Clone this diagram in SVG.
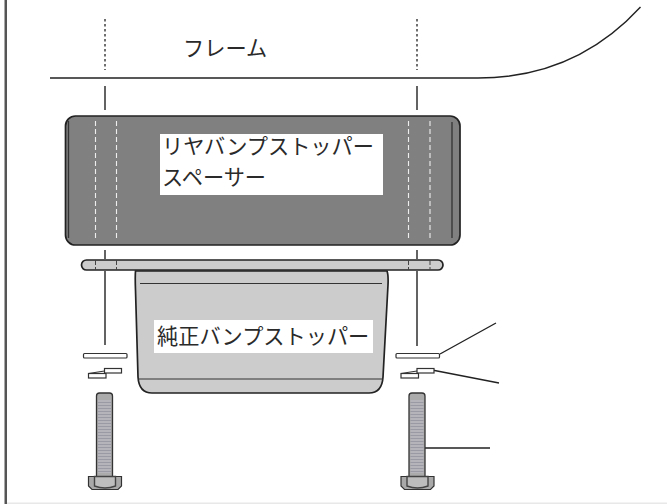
<svg xmlns="http://www.w3.org/2000/svg" xmlns:xlink="http://www.w3.org/1999/xlink" width="667" height="504" viewBox="0 0 667 504">
<style>
.ln{fill:none;stroke:#222;stroke-width:1.4}
.dot{fill:none;stroke:#333;stroke-width:1.4;stroke-dasharray:2.5 2.5}
.wd{fill:none;stroke:#eee;stroke-width:1.1;stroke-dasharray:5 3}
.tick{fill:none;stroke:#444;stroke-width:1;stroke-dasharray:5 2}
.part{stroke:#222;stroke-width:1.7}
.wash{fill:#fff;stroke:#333;stroke-width:1.2}
.lab{font-family:"Noto Sans CJK JP","Noto Sans",sans-serif;font-size:21.2px;fill:#2a2a2a}
.bg{fill:#fff}
</style>
<defs>
<pattern id="thr" width="4" height="3" patternUnits="userSpaceOnUse">
<rect width="4" height="3" fill="#b4b4ba"/>
<rect width="4" height="1" fill="#9a9aa4"/>
</pattern>
<g id="bolt">
<path d="M96.500 477V396q0-3 3-3h10q3 0 3 3V477" fill="#ababab" stroke="#333" stroke-width="1.300"/>
<rect x="98" y="400" width="13" height="73" fill="url(#thr)"/>
<path d="M88.500 476.500H121.500V486L118 489.500H92L88.500 486Z" fill="#a9a9a9" stroke="#333" stroke-width="1.200"/>
<path d="M94.500 476.500H115.500V486Q105 490 94.500 486Z" fill="#bdbdbd" stroke="#444" stroke-width="1.400"/>
</g>
<g id="spring">
<rect x="88.500" y="373.500" width="17.500" height="4.500" class="wash"/>
<rect x="104.500" y="368.500" width="17" height="4.500" class="wash"/>
<path d="M88.500 373.500L104.500 371" class="wash"/>
</g>
</defs>
<rect width="667" height="504" fill="#fff"/>
<g id="border">
<rect x="4.500" y="0" width="2.500" height="504" fill="#555"/>
<rect x="7" y="502.500" width="660" height="1.500" fill="#e8e8e8"/>
</g>
<g id="frame">
<path d="M50 78H478C530 78 590 62 640.500 7" class="ln"/>
<text x="183" y="56" class="lab">フレーム</text>
</g>
<g id="connectors">
<path d="M105 19V70M417 19V70" class="dot"/>
<path d="M105 86V110M417 86V110M105 250V259M417 250V259M105 271V345M417 271V346" class="ln"/>
<path d="M440 354L496 323M432 370L499 383M423 448H490" class="ln"/>
</g>
<g id="spacer">
<rect x="65.500" y="116" width="394.500" height="129" rx="10" fill="#808080" class="part"/>
<path d="M68.500 121V238M452 122V238" fill="none" stroke="#333" stroke-width="1.300"/>
<path d="M95.500 121V240M116.500 121V240M408.500 121V240M430 121V240" class="wd"/>
<rect x="160" y="134" width="223" height="61" class="bg"/>
<text x="162" y="154" class="lab">リヤバンプストッパー</text>
<text x="162" y="185" class="lab">スペーサー</text>
</g>
<g id="plate">
<rect x="81.500" y="260" width="361.500" height="10" rx="5" fill="#cccccc" class="part"/>
<path d="M95.500 260V270M116.500 260V270M408.500 260V270M430 260V270" class="tick"/>
</g>
<g id="stopper">
<path d="M135.500 271Q135 277 135.500 290L138 377Q139 393 152 393H369Q382 393 383 377L388 285Q388.500 275 387 271Z" fill="#cccccc" class="part"/>
<path d="M140 283.500H382M138 379H383" fill="none" stroke="#333" stroke-width="1"/>
<rect x="154" y="320" width="219" height="33" class="bg"/>
<text x="157" y="344" class="lab">純正バンプストッパー</text>
</g>
<g id="washer-left"><rect x="83.500" y="353.500" width="43.500" height="4.500" rx="1" class="wash"/></g>
<g id="spring-left"><use xlink:href="#spring"/></g>
<g id="bolt-left"><use xlink:href="#bolt"/></g>
<g id="washer-right"><rect x="396" y="353.500" width="43.500" height="4.500" rx="1" class="wash"/></g>
<g id="spring-right"><use xlink:href="#spring" x="312.500"/></g>
<g id="bolt-right"><use xlink:href="#bolt" x="312.500"/></g>
</svg>
